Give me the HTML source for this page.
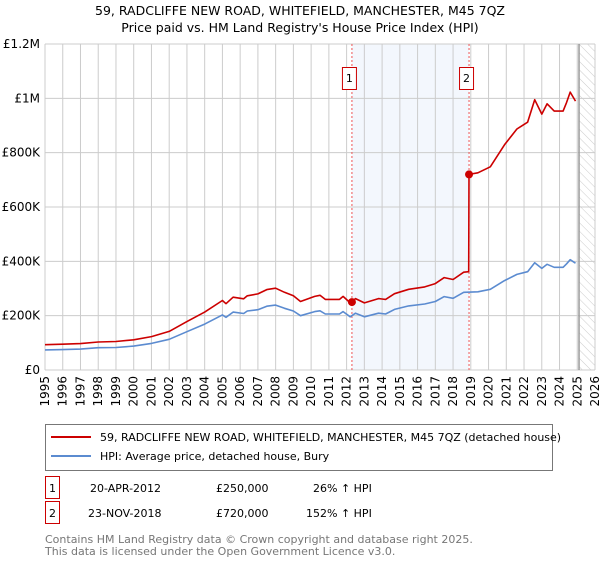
<!DOCTYPE html>
<html><head><meta charset="utf-8"><style>
body{margin:0;background:#fff;font-family:"DejaVu Sans","Liberation Sans",sans-serif;}
svg text{font-family:"DejaVu Sans","Liberation Sans",sans-serif;}
</style></head><body>
<svg id="c" width="600" height="560" xmlns="http://www.w3.org/2000/svg">
<defs><pattern id="hatch" width="6" height="6" patternUnits="userSpaceOnUse" patternTransform="rotate(-45)"><line x1="0" y1="0" x2="0" y2="6" stroke="#ccc" stroke-width="1"/></pattern></defs>
<text x="300" y="15" text-anchor="middle" font-size="12.5">59, RADCLIFFE NEW ROAD, WHITEFIELD, MANCHESTER, M45 7QZ</text>
<text x="300" y="32" text-anchor="middle" font-size="12.5">Price paid vs. HM Land Registry's House Price Index (HPI)</text>
<g id="plot"></g>
<g>
<rect x="45.5" y="424.5" width="507" height="46" fill="#fff" stroke="#777"/>
<line x1="51" y1="437" x2="91" y2="437" stroke="#cc0000" stroke-width="2"/>
<text x="100" y="441" font-size="11">59, RADCLIFFE NEW ROAD, WHITEFIELD, MANCHESTER, M45 7QZ (detached house)</text>
<line x1="51" y1="456" x2="91" y2="456" stroke="#5b8bd0" stroke-width="2"/>
<text x="100" y="460" font-size="11">HPI: Average price, detached house, Bury</text>
</g>
<g font-size="11">
<rect x="45.5" y="476.5" width="14" height="22" fill="#fff" stroke="#cc0000"/>
<text x="52.5" y="492" text-anchor="middle">1</text>
<text x="90" y="492">20-APR-2012</text><text x="216" y="492">£250,000</text><text x="313" y="492">26% ↑ HPI</text>
<rect x="45.5" y="501.5" width="14" height="22" fill="#fff" stroke="#cc0000"/>
<text x="52.5" y="517" text-anchor="middle">2</text>
<text x="88" y="517">23-NOV-2018</text><text x="216" y="517">£720,000</text><text x="306" y="517">152% ↑ HPI</text>
</g>
<g font-size="11" fill="#777">
<text x="45" y="543">Contains HM Land Registry data © Crown copyright and database right 2025.</text>
<text x="45" y="555">This data is licensed under the Open Government Licence v3.0.</text>
</g>
</svg>
<script>
const hpiYears=[1995,1996,1997,1998,1999,2000,2001,2002,2003,2004,2005,2005.2,2005.6,2006.2,2006.4,2007,2007.5,2008,2008.5,2009,2009.4,2010.2,2010.5,2010.8,2011.6,2011.8,2012.2,2012.5,2013,2013.8,2014.2,2014.7,2015.5,2016.4,2017,2017.5,2018,2018.6,2019.4,2020.1,2020.9,2021.6,2022.2,2022.6,2023,2023.3,2023.7,2024.2,2024.4,2024.6,2024.9];
const hpiValues=[74,75,77,82,83,88,98,113,141,169,203,194,213,208,217,222,235,239,227,217,200,215,218,206,206,215,196,209,196,209,206,223,236,243,252,270,264,286,288,297,329,352,362,395,374,389,378,378,391,406,393];
const redYears=[1995,1996,1997,1998,1999,2000,2001,2002,2003,2004,2005,2005.2,2005.6,2006.2,2006.4,2007,2007.5,2008,2008.5,2009,2009.4,2010.2,2010.5,2010.8,2011.6,2011.8,2012.2,2012.5,2013,2013.8,2014.2,2014.7,2015.5,2016.4,2017,2017.5,2018,2018.6,2018.88,2018.9,2019.4,2020.1,2020.9,2021.6,2022.2,2022.6,2023,2023.3,2023.7,2024.2,2024.4,2024.6,2024.9];
const redValues=[93,95,97,103,105,111,123,142,178,213,256,244,268,262,273,280,296,301,286,273,252,271,275,260,260,271,247,263,247,263,260,281,297,306,318,340,333,360,362,720,726,748,829,887,912,995,942,980,953,953,985,1023,990];
const saleYears=[2012.3,2018.9];
const saleValues=[250,720];
const saleLabels=["1","2"];
const yTicks=[0,200,400,600,800,1000,1200];
const yTickLabels=["£0","£200K","£400K","£600K","£800K","£1M","£1.2M"];
const xTicks=[1995,1996,1997,1998,1999,2000,2001,2002,2003,2004,2005,2006,2007,2008,2009,2010,2011,2012,2013,2014,2015,2016,2017,2018,2019,2020,2021,2022,2023,2024,2025,2026];

const X0=45,X1=595,Y0=370,Y1=44;
const xs=y=>X0+(y-1995)/(2026-1995)*(X1-X0);
const ys=v=>Y0-v/1200*(Y0-Y1);
const NS="http://www.w3.org/2000/svg";
const g=document.getElementById('plot');
function mk(t,a){const e=document.createElementNS(NS,t);for(const k in a)e.setAttribute(k,a[k]);g.appendChild(e);return e;}
let e;
e=mk('rect',{x:xs(saleYears[0]),y:Y1,width:xs(saleYears[1])-xs(saleYears[0]),height:Y0-Y1,fill:'#eef3fc',opacity:0.7});


e=mk('rect',{x:xs(2025.1),y:Y1,width:X1-xs(2025.1),height:Y0-Y1,fill:'url(#hatch)'});


xTicks.forEach((t,i)=>{
  e=mk('line',{x1:xs(t),y1:Y1,x2:xs(t),y2:Y0,stroke:'#ccc'});
  
  
  e=mk('text',{x:0,y:0,'font-size':12,'text-anchor':'end',transform:`translate(${xs(t)+4},${Y0+6}) rotate(-90)`});
  e.textContent=t;
  
  
});
yTicks.forEach((t,i)=>{
  e=mk('line',{x1:X0,y1:ys(t),x2:X1,y2:ys(t),stroke:'#ccc'});
  
  
  e=mk('text',{x:X0-5,y:ys(t)+4,'font-size':12,'text-anchor':'end'});
  e.textContent=yTickLabels[i];
  
  
});
e=mk('line',{x1:xs(2025.1),y1:Y1,x2:xs(2025.1),y2:Y0,stroke:'#999','stroke-width':1.5});


saleYears.forEach((s,i)=>{
  e=mk('line',{x1:xs(s),y1:Y1,x2:xs(s),y2:Y0,stroke:'#e55','stroke-dasharray':'2,2'});
  
  
  e=mk('rect',{x:xs(s)-9.5,y:67.5,width:14,height:22,fill:'#fff',stroke:'#cc0000'});
  
  
  e=mk('text',{x:xs(s)-2.5,y:82,'font-size':11,'text-anchor':'middle'});
  e.textContent=saleLabels[i];
  
  
});
function line(xa,va,col,name){
  const d=xa.map((x,i)=>(i?'L':'M')+xs(x).toFixed(1)+','+ys(va[i]).toFixed(1)).join('');
  const p=mk('path',{d:d,fill:'none',stroke:col,'stroke-width':1.6,'stroke-linejoin':'round'});
  
  
}
line(hpiYears,hpiValues,'#5b8bd0','hpi-line');
line(redYears,redValues,'#cc0000','property-price-line');
saleYears.forEach((s,i)=>{
  e=mk('circle',{cx:xs(s),cy:ys(saleValues[i]),r:4,fill:'#cc0000'});
  
  
});
</script>
</body></html>
